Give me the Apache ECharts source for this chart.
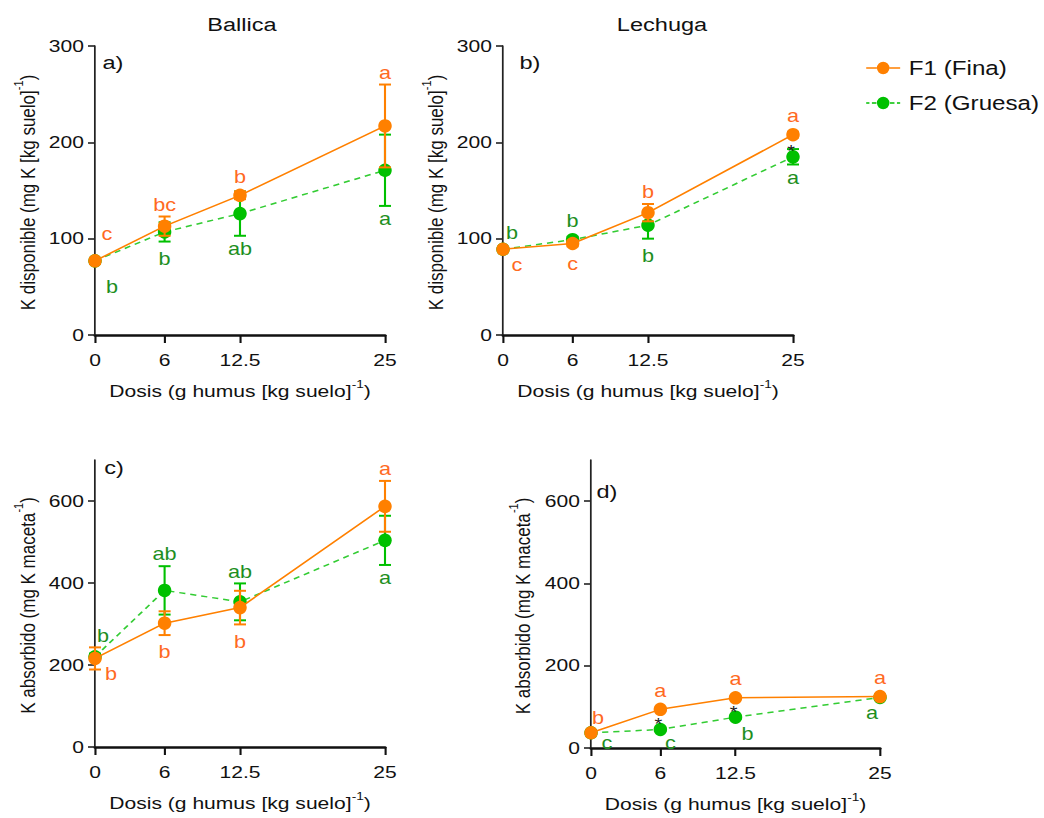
<!DOCTYPE html>
<html>
<head>
<meta charset="utf-8">
<title>K disponible y K absorbido</title>
<script src="https://cdn.jsdelivr.net/npm/echarts@6/dist/echarts.min.js"></script>
<style>
  html, body { margin: 0; padding: 0; background: #fff; overflow: hidden; }
  /* The figure is drawn narrower and widened horizontally, giving its wide lettering */
  #chart { width: 842px; height: 818px; transform: scaleX(1.23990); transform-origin: 0 0; }
</style>
</head>
<body>
<div id="chart"></div>
<script>
// Humus doses (g humus per kg soil) and tick values
const doses = [0, 6, 12.5, 25];
const yTicksDisp = [0, 100, 200, 300];
const yTicksAbs = [0, 200, 400, 600];

// a) Ballica - K disponible (mean and error)
const ballicaDispF1 = [77, 113, 145, 217];
const ballicaDispF1Err = [3, 10, 4, 43];
const ballicaDispF2 = [77, 107, 126, 171];
const ballicaDispF2Err = [3, 10, 23, 37];
const ballicaDispF1Letters = ['c', 'bc', 'b', 'a'];
const ballicaDispF2Letters = ['b', 'b', 'ab', 'a'];

// b) Lechuga - K disponible
const lechugaDispF1 = [89, 95, 127, 208];
const lechugaDispF1Err = [2, 3, 9, 3];
const lechugaDispF2 = [89, 99, 114, 185];
const lechugaDispF2Err = [2, 3, 14, 8];
const lechugaDispF1Letters = ['c', 'c', 'b', 'a'];
const lechugaDispF2Letters = ['b', 'b', 'b', 'a'];
const lechugaDispStars = [0, 0, 0, 1];

// c) Ballica - K absorbido
const ballicaAbsF1 = [216, 302, 340, 587];
const ballicaAbsF1Err = [27, 29, 41, 62];
const ballicaAbsF2 = [220, 382, 354, 504];
const ballicaAbsF2Err = [8, 59, 45, 60];
const ballicaAbsF1Letters = ['b', 'b', 'b', 'a'];
const ballicaAbsF2Letters = ['b', 'ab', 'ab', 'a'];

// d) Lechuga - K absorbido
const lechugaAbsF1 = [37, 94, 122, 125];
const lechugaAbsF1Err = [3, 4, 4, 4];
const lechugaAbsF2 = [37, 45, 75, 123];
const lechugaAbsF2Err = [2, 3, 4, 3];
const lechugaAbsF1Letters = ['b', 'a', 'a', 'a'];
const lechugaAbsF2Letters = ['c', 'c', 'b', 'a'];
const lechugaAbsStars = [0, 1, 1, 0];

// Horizontal widening applied by CSS; horizontal sizes are divided by it
const SX = 1044 / 842;
const hx = function (v) { return v / SX; };

const FONT = '"Liberation Sans", Arial, Helvetica, sans-serif';
const INK = '#111';
const ORANGE = '#FF8000';
const ORANGE_TXT = '#FF6A1F';
const GREEN = '#00C000';
const GREEN_LINE = '#33CC33';
const GREEN_TXT = '#1E8F1E';
const F1_NAME = 'F1 (Fina)';
const F2_NAME = 'F2 (Gruesa)';
const MARK = 13.5;

// Letter placement: 't' above the point/error bar, 'b' below, [dx, dy] offset from the point
const panels = [
  { grid: { left: hx(95), top: 46, width: hx(290), height: 289 }, yMax: 300, yTicks: yTicksDisp,
    yName: 'K disponible (mg K [kg suelo]', yNameX: 25,
    f1: ballicaDispF1, f1e: ballicaDispF1Err, f1l: ballicaDispF1Letters, f1p: [[12, -27], 't', 't', 't'],
    f2: ballicaDispF2, f2e: ballicaDispF2Err, f2l: ballicaDispF2Letters, f2p: [[17, 26], 'b', 'b', 'b'],
    stars: null },
  { grid: { left: hx(503), top: 46, width: hx(290), height: 289 }, yMax: 300, yTicks: yTicksDisp,
    yName: 'K disponible (mg K [kg suelo]', yNameX: 433,
    f1: lechugaDispF1, f1e: lechugaDispF1Err, f1l: lechugaDispF1Letters, f1p: [[14, 16], 'b', 't', 't'],
    f2: lechugaDispF2, f2e: lechugaDispF2Err, f2l: lechugaDispF2Letters, f2p: [[9, -16], 't', 'b', 'b'],
    stars: lechugaDispStars },
  { grid: { left: hx(95), top: 460, width: hx(290), height: 287 }, yMax: 700, yTicks: yTicksAbs,
    yName: 'K absorbido (mg K maceta', yNameX: 25,
    f1: ballicaAbsF1, f1e: ballicaAbsF1Err, f1l: ballicaAbsF1Letters, f1p: [[16, 15], 'b', 'b', 't'],
    f2: ballicaAbsF2, f2e: ballicaAbsF2Err, f2l: ballicaAbsF2Letters, f2p: [[8, -21], 't', 't', 'b'],
    stars: null },
  { grid: { left: hx(591), top: 460, width: hx(289), height: 288 }, yMax: 700, yTicks: yTicksAbs,
    yName: 'K absorbido (mg K maceta', yNameX: 520,
    f1: lechugaAbsF1, f1e: lechugaAbsF1Err, f1l: lechugaAbsF1Letters, f1p: [[7, -15], 't', 't', 't'],
    f2: lechugaAbsF2, f2e: lechugaAbsF2Err, f2l: lechugaAbsF2Letters, f2p: [[16, 10], [10, 13], [12, 17], [-8, 15]],
    stars: lechugaAbsStars }
];

function supName(base) {
  return '{t|' + base + '}{s|-1}{t|)}';
}
function nameRich(size) {
  return {
    t: { fontSize: size, fontFamily: FONT, color: INK, fill: INK, lineHeight: 21, verticalAlign: 'bottom' },
    s: { fontSize: 11, fontFamily: FONT, color: INK, fill: INK, lineHeight: 12, verticalAlign: 'top' }
  };
}

function errorBars(color) {
  return function (params, api) {
    const x = api.value(0), m = api.value(1), e = api.value(2);
    const hi = api.coord([x, m + e]);
    const lo = api.coord([x, m - e]);
    const cap = hx(6);
    return {
      type: 'group',
      children: [
        { type: 'line', shape: { x1: hi[0], y1: hi[1], x2: lo[0], y2: lo[1] }, style: { stroke: color, lineWidth: 1.7 } },
        { type: 'line', shape: { x1: hi[0] - cap, y1: hi[1], x2: hi[0] + cap, y2: hi[1] }, style: { stroke: color, lineWidth: 2 } },
        { type: 'line', shape: { x1: lo[0] - cap, y1: lo[1], x2: lo[0] + cap, y2: lo[1] }, style: { stroke: color, lineWidth: 2 } }
      ]
    };
  };
}

function letterLabels(letters, places, color, stars) {
  return function (params, api) {
    const i = params.dataIndex;
    const x = api.value(0), m = api.value(1), e = api.value(2);
    const p = api.coord([x, m]);
    const top = Math.min(api.coord([x, m + e])[1], p[1] - 7);
    const bot = Math.max(api.coord([x, m - e])[1], p[1] + 7);
    const pl = places[i];
    const tall = /^[bdhklt]/.test(letters[i]);
    let tx = p[0], ty, va;
    if (pl === 't') { ty = top - 3; va = 'bottom'; }
    else if (pl === 'b') { ty = bot + (tall ? 8 : 4); va = 'top'; }
    else { tx = p[0] + hx(pl[0]); ty = p[1] + pl[1]; va = 'middle'; }
    const children = [{
      type: 'text',
      style: { x: tx, y: ty, text: letters[i], fill: color, fontSize: 17.5, fontFamily: FONT, align: 'center', verticalAlign: va }
    }];
    if (stars && stars[i]) {
      children.push({
        type: 'text',
        style: { x: p[0] - hx(2), y: top + 2.5, text: '*', fill: '#222', fontSize: 16, fontFamily: FONT, align: 'center', verticalAlign: 'middle' }
      });
    }
    return { type: 'group', children: children };
  };
}

const grids = [], xAxes = [], yAxes = [], series = [], yNames = [];
panels.forEach(function (pn, k) {
  grids.push(pn.grid);
  xAxes.push({
    type: 'value', gridIndex: k, min: 0, max: 25,
    name: supName('Dosis (g humus [kg suelo]'), nameLocation: 'middle', nameGap: 44,
    nameTextStyle: { rich: nameRich(17) },
    axisLine: { show: true, onZero: false, lineStyle: { color: INK, width: 2.5 } },
    axisTick: { show: true, length: 8, customValues: doses, lineStyle: { color: INK, width: 1.7 } },
    axisLabel: { customValues: doses, margin: 17, fontSize: 17, fontFamily: FONT, color: INK,
      formatter: function (v) { return String(v); } },
    splitLine: { show: false }
  });
  yAxes.push({
    type: 'value', gridIndex: k, min: 0, max: pn.yMax,
    axisLine: { show: true, onZero: false, lineStyle: { color: '#222', width: 1.4 } },
    axisTick: { show: true, length: hx(7), customValues: pn.yTicks, lineStyle: { color: '#222', width: 1.6 } },
    axisLabel: { customValues: pn.yTicks, margin: hx(11), fontSize: 17, fontFamily: FONT, color: INK },
    splitLine: { show: false }
  });

  // Vertical axis title, turned to read bottom to top
  yNames.push({
    type: 'text', silent: true,
    x: hx(pn.yNameX), y: pn.grid.top + pn.grid.height / 2 + 2,
    rotation: Math.PI / 2,
    style: { text: supName(pn.yName), rich: nameRich(17), fontFamily: FONT, fill: INK,
      align: 'center', verticalAlign: 'middle' }
  });

  const d1 = doses.map(function (d, i) { return [d, pn.f1[i], pn.f1e[i]]; });
  const d2 = doses.map(function (d, i) { return [d, pn.f2[i], pn.f2e[i]]; });

  series.push({
    type: 'custom', name: 'err2', xAxisIndex: k, yAxisIndex: k, z: 1, clip: false,
    renderItem: errorBars(GREEN), data: d2, encode: { x: 0, y: 1 }, silent: true
  });
  series.push({
    type: 'line', name: F2_NAME, xAxisIndex: k, yAxisIndex: k, z: 2,
    data: d2.map(function (r) { return [r[0], r[1]]; }),
    symbol: 'circle', symbolSize: [hx(MARK), MARK], showAllSymbol: true,
    itemStyle: { color: GREEN },
    lineStyle: { color: GREEN_LINE, width: 1.5, type: [5, 4] }
  });
  series.push({
    type: 'custom', name: 'err1', xAxisIndex: k, yAxisIndex: k, z: 3, clip: false,
    renderItem: errorBars(ORANGE), data: d1, encode: { x: 0, y: 1 }, silent: true
  });
  series.push({
    type: 'line', name: F1_NAME, xAxisIndex: k, yAxisIndex: k, z: 4,
    data: d1.map(function (r) { return [r[0], r[1]]; }),
    symbol: 'circle', symbolSize: [hx(MARK), MARK], showAllSymbol: true,
    itemStyle: { color: ORANGE },
    lineStyle: { color: ORANGE, width: 1.5 }
  });
  series.push({
    type: 'custom', name: 'lab1', xAxisIndex: k, yAxisIndex: k, z: 6, clip: false,
    renderItem: letterLabels(pn.f1l, pn.f1p, ORANGE_TXT, null), data: d1, encode: { x: 0, y: 1 }, silent: true
  });
  series.push({
    type: 'custom', name: 'lab2', xAxisIndex: k, yAxisIndex: k, z: 6, clip: false,
    renderItem: letterLabels(pn.f2l, pn.f2p, GREEN_TXT, pn.stars), data: d2, encode: { x: 0, y: 1 }, silent: true
  });
});

// Legend keys: a line with a round marker (solid for F1, dashed for F2), widened like the rest
const KEY_W = 274, KEY_H = 125;            // path units (10 per pixel)
const RX = 62.5 / SX, CX = KEY_W / 2;
const ring = 'M' + (CX - RX) + ' 62.5 A' + RX + ' 62.5 0 1 1 ' + (CX + RX) + ' 62.5 A' + RX + ' 62.5 0 1 1 ' + (CX - RX) + ' 62.5 Z';
function seg(a, b) { return 'M' + a + ' 55 H' + b + ' V71 H' + a + ' Z '; }
const keySolid = 'path://' + seg(0, CX - RX) + seg(CX + RX, KEY_W) + ring;
const keyDashed = 'path://' + seg(0, 26) + seg(46, CX - RX - 4) + seg(CX + RX + 4, KEY_W - 46) + seg(KEY_W - 26, KEY_W) + ring;

function headText(x, y, txt, size) {
  return { type: 'text', x: hx(x), y: y, silent: true,
    style: { text: txt, fontSize: size, fontFamily: FONT, fill: INK, align: 'center', verticalAlign: 'middle' } };
}

const chart = echarts.init(document.getElementById('chart'), null, { renderer: 'svg' });
chart.setOption({
  animation: false,
  backgroundColor: '#fff',
  grid: grids,
  xAxis: xAxes,
  yAxis: yAxes,
  series: series,
  legend: {
    data: [
      { name: F1_NAME, icon: keySolid },
      { name: F2_NAME, icon: keyDashed }
    ],
    orient: 'vertical', left: hx(860), top: 53, itemGap: 15,
    itemWidth: KEY_W / 10, itemHeight: KEY_H / 10, symbolKeepAspect: false,
    textStyle: { fontSize: 19.5, fontFamily: FONT, color: INK, padding: [0, 0, 0, 2] },
    selectedMode: false
  },
  graphic: [
    headText(242, 25, 'Ballica', 19),
    headText(662, 25, 'Lechuga', 19),
    headText(113, 63, 'a)', 19),
    headText(530, 63, 'b)', 19),
    headText(114, 468, 'c)', 19),
    headText(607, 492, 'd)', 19)
  ].concat(yNames)
});
</script>
</body>
</html>
